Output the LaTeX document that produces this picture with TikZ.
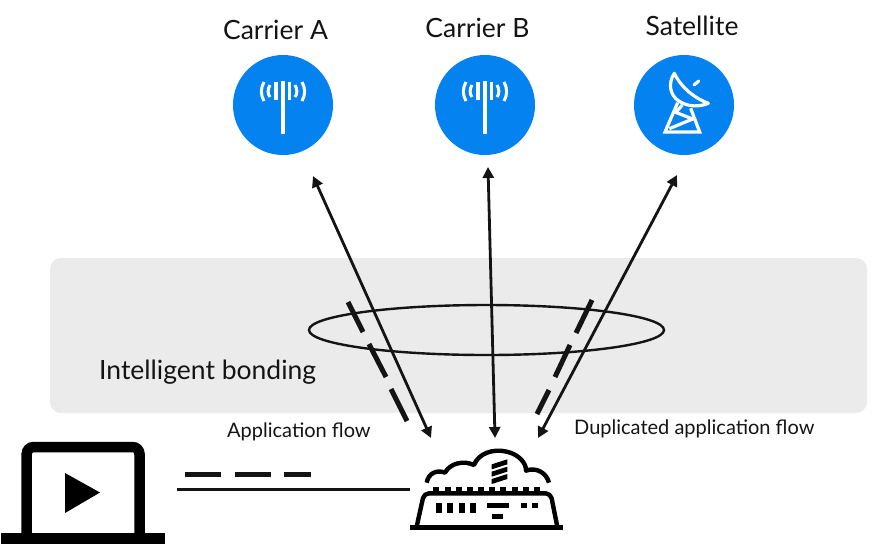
\documentclass[tikz,border=0pt]{standalone}
\usepackage{fontspec}
\setmainfont{Lato}
\usetikzlibrary{arrows.meta}
\definecolor{bandgray}{HTML}{EBEBEB}
\definecolor{siteblue}{HTML}{0482F0}
\definecolor{inkblack}{HTML}{141414}
\tikzset{
  site/.style={circle,fill=siteblue,minimum size=100pt,inner sep=0pt,draw=none},
  title/.style={font=\fontsize{26.5}{28}\selectfont,text=inkblack,inner sep=0pt},
  bandtext/.style={font=\fontsize{26.5}{28}\selectfont,text=inkblack,inner sep=0pt},
  flowtext/.style={font=\fontsize{20}{24}\selectfont,text=inkblack,inner sep=0pt},
  link/.style={draw=inkblack,line width=2.8pt,{Triangle[length=11pt,width=11pt]}-{Triangle[length=11pt,width=11pt]}},
  flowdash/.style={draw=inkblack,line width=5pt},
  whiteicon/.style={draw=white,line width=3.2pt},
  blackicon/.style={draw=black,line width=4.4pt,line join=round},
}
\begin{document}
\begin{tikzpicture}[x=1pt,y=-1pt]
\useasboundingbox (0,0) rectangle (880,558);
\fill[white] (0,0) rectangle (880,558);
% band
\fill[bandgray,rounded corners=11pt] (50,258) rectangle (867,413);
\node[bandtext,anchor=west] (bond) at (99,372) {Intelligent bonding};
\draw[inkblack,line width=2.4pt] (486.5,330) ellipse [x radius=177.5,y radius=25];
% sites
\node[site] (ca) at (283,105) {};
\node[site] (cb) at (485,105) {};
\node[site] (sa) at (684,105) {};
\node[title] (tca) at (275.5,30) {Carrier A};
\node[title] (tcb) at (477.5,28) {Carrier B};
\node[title] (tsa) at (692,26) {Satellite};
% antenna icons
\foreach \c in {ca,cb}{
  \begin{scope}[shift={(\c)}]
    \draw[whiteicon,line width=3.2pt] (0,-24) -- (0,29);
    \draw[whiteicon] (-7,-23) -- (-7,-5);
    \draw[whiteicon] (6.5,-23) -- (6.5,-5);
    \draw[whiteicon,line width=3pt] (-13,-20) .. controls (-15.5,-16) and (-15.5,-11) .. (-13,-8);
    \draw[whiteicon,line width=3pt] (12,-20) .. controls (14.5,-16) and (14.5,-11) .. (12,-8);
    \draw[whiteicon,line width=3pt] (-19,-23) .. controls (-22.5,-17) and (-22.5,-10) .. (-19,-4);
    \draw[whiteicon,line width=3pt] (19,-23) .. controls (22.5,-17) and (22.5,-10) .. (19,-4);
  \end{scope}
}
% satellite icon
\begin{scope}[shift={(625,60)},x=0.3333pt,y=-0.3333pt]
  \draw[whiteicon,line join=round] (148,40) .. controls (128,70) and (135,105) .. (160,122)
     .. controls (190,143) and (225,140) .. (250,130)
     .. controls (210,115) and (170,85) .. (148,40) -- cycle;
  \draw[whiteicon,line cap=round] (207,75) -- (221,63);
  \draw[whiteicon,line join=miter] (158,128) -- (120,216) -- (224,216) -- (197,145);
  \draw[whiteicon] (147,155) -- (203,177) -- (133,206);
  \draw[whiteicon] (150,160) -- (172,135);
\end{scope}
% links
\coordinate (ca1) at (313,176);
\coordinate (ca2) at (431,438);
\coordinate (cb1) at (488,167);
\coordinate (cb2) at (495,438);
\coordinate (sa1) at (677,175);
\coordinate (sa2) at (538,438);
\draw[link] (ca1) -- (ca2);
\draw[link] (cb1) -- (cb2);
\draw[link] (sa1) -- (sa2);
% dashes on left
\draw[flowdash] (348,302) -- (363,332);
\draw[flowdash] (369,344) -- (386,377);
\draw[flowdash] (391,389) -- (407,421);
% dashes on right
\draw[flowdash] (592,300) -- (576,333);
\draw[flowdash] (570,345) -- (555,377);
\draw[flowdash] (549,390) -- (537,414);
% flow labels
\node[flowtext,anchor=west] (lapp) at (227,431.5) {Application flow};
\node[flowtext,anchor=west] (ldup) at (574,428.5) {Duplicated application flow};
% laptop
\coordinate (lap) at (177,489.5);
\coordinate (rou) at (410,489.5);
\draw[black,line width=10.5pt,rounded corners=7pt] (26.7,535) -- (26.7,447) -- (139.5,447) -- (139.5,535);
\fill[black] (1,533) rectangle (165,544);
\fill[black] (65,473) -- (100,492.5) -- (65,513) -- cycle;
% flows
\draw[inkblack,line width=3pt] (lap) -- (rou);
\draw[flowdash] (185,474) -- (221,474);
\draw[flowdash] (235,474) -- (271,474);
\draw[flowdash] (284,474) -- (311,474);
% router
\begin{scope}[shift={(400,430)},x=0.3333pt,y=-0.3333pt]
  \draw[blackicon] (80,158) .. controls (85,130) and (110,118) .. (135,128)
    .. controls (150,100) and (190,90) .. (222,105)
    .. controls (235,70) and (280,55) .. (320,65)
    .. controls (355,72) and (380,100) .. (378,122)
    .. controls (410,110) and (440,130) .. (447,158);
  \fill[black] (275,103) -- (322,88) -- (322,103) -- (275,118) -- cycle;
  \fill[black] (275,125) -- (322,110) -- (322,125) -- (275,140) -- cycle;
  \fill[black] (275,147) -- (322,132) -- (322,147) -- (275,162) -- cycle;
  \fill[black] (30,286) rectangle (488,300);
  \draw[blackicon,rounded corners=5pt] (50,290) -- (72,190) -- (452,190) -- (472,290);
  \foreach \x in {100,134,167,200,234,267,301,335,368,402}{
    \fill[black] (\x,170) rectangle (\x+18,190);
  }
  \foreach \x in {108,142,176,210}{
    \fill[black] (\x,218) rectangle (\x+18,250);
  }
  \fill[black] (260,218) rectangle (328,234);
  \fill[black] (277,251) rectangle (310,268);
  \fill[black] (362,218) rectangle (381,234);
  \fill[black] (395,218) rectangle (414,234);
\end{scope}
\end{tikzpicture}
\end{document}
